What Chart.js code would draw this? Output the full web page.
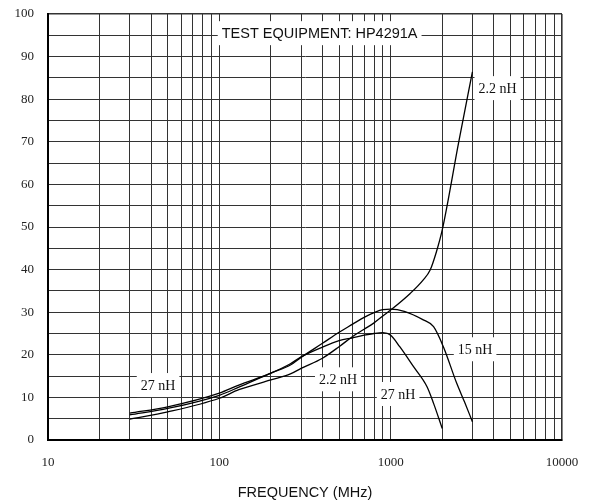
<!DOCTYPE html>
<html lang="en">
<head>
  <meta charset="UTF-8">
  <title>Q vs Frequency</title>
  <script src="https://cdn.jsdelivr.net/npm/chart.js"></script>
  <style>
    body { margin: 0; background: #fff; }
    #wrap { width: 589px; height: 502px; }
  </style>
</head>
<body>
  <div id="wrap"><canvas id="qChart" width="589" height="502"></canvas></div>

  <script>
    // frequency (MHz) and Q, one pair of arrays per curve
    const freq27 = [30, 50, 100, 130, 200, 260, 300, 400, 500, 600, 700, 800, 900, 1000, 1130, 1360, 1630, 1780, 2000];
    const q27    = [6.3, 7.8, 11.0, 12.9, 15.7, 17.9, 19.5, 21.8, 23.3, 24.0, 24.6, 25.0, 25.2, 24.6, 21.9, 17.2, 12.5, 8.6, 2.7];

    const freq15 = [30, 50, 100, 130, 200, 260, 300, 400, 500, 600, 700, 800, 900, 1000, 1200, 1550, 1780, 2030, 2430, 2700, 3000];
    const q15    = [5.9, 7.4, 10.5, 12.4, 15.7, 17.6, 19.4, 22.7, 25.3, 27.2, 28.8, 29.9, 30.6, 30.7, 30.2, 28.2, 26.6, 21.9, 13.3, 8.9, 4.3];

    const freq22 = [30, 50, 100, 130, 200, 260, 300, 400, 500, 600, 700, 800, 900, 1000, 1300, 1550, 1700, 1850, 2000, 2500, 3000];
    const q22    = [4.9, 6.6, 9.8, 11.8, 14.1, 15.5, 16.8, 19.2, 21.9, 24.3, 26.0, 27.5, 29.1, 30.5, 34.4, 37.6, 39.9, 44.2, 49.3, 70.1, 86.4];

    const xDecades = [10, 100, 1000, 10000];
    const xGridMultipliers = [1, 2, 3, 4, 5, 6, 7, 8, 9];
    const yLabelStep = 10;

    const toPoints = (xs, ys) => xs.map((x, i) => ({ x: x, y: ys[i] }));

    // curve labels, anchored in data space [freq, Q]
    const notes = [
      { text: 'TEST EQUIPMENT: HP4291A', at: [385, 95.5], sans: true },
      { text: '2.2 nH', at: [4207, 82.6] },
      { text: '15 nH', at: [3110, 21.3] },
      { text: '2.2 nH', at: [493, 14.25] },
      { text: '27 nH', at: [1105, 10.8] },
      { text: '27 nH', at: [43.9, 12.9] }
    ];

    const notePlugin = {
      id: 'notes',
      afterDatasetsDraw(chart) {
        const ctx = chart.ctx;
        const xs = chart.scales.x, ys = chart.scales.y;
        ctx.save();
        notes.forEach(n => {
          ctx.font = n.sans ? '14.5px "Liberation Sans", Arial, sans-serif' : '14px "Liberation Serif", "Times New Roman", serif';
          const px = xs.getPixelForValue(n.at[0]);
          const py = ys.getPixelForValue(n.at[1]);
          const w = ctx.measureText(n.text).width;
          ctx.fillStyle = '#fff';
          ctx.fillRect(px - w / 2 - 4, py - 12, w + 8, 24);
          ctx.fillStyle = '#111';
          ctx.textAlign = 'center';
          ctx.textBaseline = 'middle';
          ctx.fillText(n.text, px, py + 1);
        });
        ctx.restore();
      }
    };

    const lineStyle = {
      borderColor: '#000',
      borderWidth: 1.3,
      pointRadius: 0,
      fill: false,
      cubicInterpolationMode: 'monotone'
    };

    new Chart(document.getElementById('qChart').getContext('2d'), {
      type: 'line',
      data: {
        datasets: [
          Object.assign({ label: '27 nH', data: toPoints(freq27, q27) }, lineStyle),
          Object.assign({ label: '15 nH', data: toPoints(freq15, q15) }, lineStyle),
          Object.assign({ label: '2.2 nH', data: toPoints(freq22, q22) }, lineStyle)
        ]
      },
      options: {
        responsive: false,
        animation: false,
        layout: { padding: { top: 14, right: 27, bottom: 0, left: 0 } },
        plugins: { legend: { display: false }, tooltip: { enabled: false } },
        scales: {
          x: {
            type: 'logarithmic',
            min: 10,
            max: 10000,
            afterBuildTicks(scale) {
              const t = [];
              xDecades.slice(0, -1).forEach(d => xGridMultipliers.forEach(m => t.push({ value: d * m })));
              t.push({ value: xDecades[xDecades.length - 1] });
              scale.ticks = t;
            },
            afterFit(scale) {
              scale.height = 62;
              scale.paddingLeft = 0;
              scale.paddingRight = 0;
            },
            grid: {
              drawTicks: false,
              color: '#333',
              lineWidth: c => (c.tick && (c.tick.value === 10 || c.tick.value === 10000)) ? 1.6 : 1
            },
            border: { display: true, color: '#000', width: 2 },
            ticks: {
              autoSkip: false,
              maxRotation: 0,
              padding: 15,
              color: '#222',
              font: { family: '"Liberation Serif", "Times New Roman", serif', size: 13 },
              callback: v => xDecades.includes(v) ? String(v) : ''
            },
            title: {
              display: true,
              text: 'FREQUENCY (MHz)',
              color: '#111',
              padding: { top: 0, bottom: 0 },
              font: { family: '"Liberation Sans", Arial, sans-serif', size: 14.5 }
            }
          },
          y: {
            min: 0,
            max: 100,
            afterFit(scale) {
              scale.width = 48;
              scale.paddingTop = 0;
              scale.paddingBottom = 0;
            },
            grid: {
              drawTicks: false,
              color: '#333',
              lineWidth: c => (c.tick && c.tick.value === 100) ? 1.6 : 1
            },
            border: { display: true, color: '#000', width: 2 },
            ticks: {
              stepSize: 5,
              padding: 14,
              color: '#222',
              font: { family: '"Liberation Serif", "Times New Roman", serif', size: 13 },
              callback: v => v % yLabelStep === 0 ? String(v) : ''
            }
          }
        }
      },
      plugins: [notePlugin]
    });
  </script>
</body>
</html>
